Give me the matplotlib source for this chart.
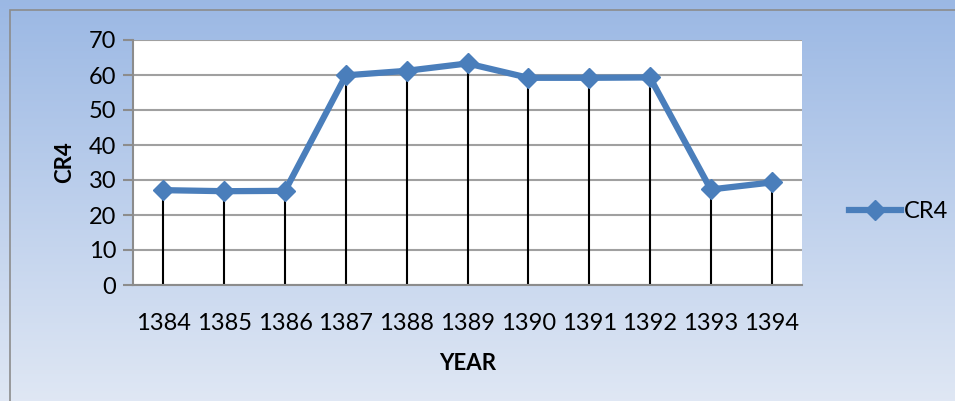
import numpy as np
import matplotlib.pyplot as plt
from matplotlib.patches import Rectangle

years = ["1384", "1385", "1386", "1387", "1388", "1389", "1390", "1391", "1392", "1393", "1394"]
cr4 = [27.1, 26.8, 26.9, 59.9, 61.2, 63.3, 59.2, 59.2, 59.3, 27.3, 29.3]

plt.rcParams['font.family'] = ['Lato', 'DejaVu Sans']

W, H = 955, 401
fig = plt.figure(figsize=(W / 100, H / 100), dpi=100)

# background gradient
bg = fig.add_axes([0, 0, 1, 1])
grad = np.linspace(0, 1, 256).reshape(-1, 1)
top = np.array([0.608, 0.722, 0.894])
bot = np.array([0.875, 0.906, 0.957])
img = top + (bot - top) * grad[..., None]
bg.imshow(img, aspect='auto', extent=[0, 1, 0, 1], origin='upper')
bg.add_patch(Rectangle((10 / W, -0.01), 1.0, 1 - 9.5 / H + 0.01, transform=bg.transAxes,
                       fill=False, edgecolor='#8c8c8c', lw=1.2))
bg.set_xlim(0, 1)
bg.set_ylim(0, 1)
bg.axis('off')

# plot area
ax = fig.add_axes([133 / W, 1 - 285 / H, (802 - 133) / W, (285 - 40) / H])
x = np.arange(len(years))
ax.set_facecolor('white')
ax.vlines(x, 0, cr4, color='black', lw=1.5, zorder=2)
ax.plot(x, cr4, color='#4a7ebb', lw=4.5, marker='D', markersize=10.5, zorder=3, label='CR4',
        solid_joinstyle='round')
ax.set_xlim(-0.5, len(years) - 0.5)
ax.set_ylim(0, 70)
ax.set_yticks(range(0, 71, 10))
ax.yaxis.grid(True, color='#a0a0a0', lw=1.5)
ax.set_axisbelow(True)
ax.set_xticks(x)
ax.set_xticklabels(years, fontsize=17)
ax.tick_params(axis='x', length=0, pad=20)
ax.tick_params(axis='y', labelsize=17, length=7, color='#8c8c8c', width=1.5, pad=5)
for s in ['top', 'right']:
    ax.spines[s].set_visible(False)
for s in ['left', 'bottom']:
    ax.spines[s].set_color('#8c8c8c')
    ax.spines[s].set_linewidth(1.5)
ax.set_xlabel('YEAR', fontsize=16, fontweight='bold', labelpad=14)
ax.set_ylabel('CR4', fontsize=16, fontweight='bold', labelpad=10)

leg = ax.legend(loc='center left', bbox_to_anchor=(828 / W, 1 - 212 / H), bbox_transform=fig.transFigure,
                frameon=False, fontsize=17, handlelength=2.2, handletextpad=0.1)

fig.savefig('out.png', dpi=100)
